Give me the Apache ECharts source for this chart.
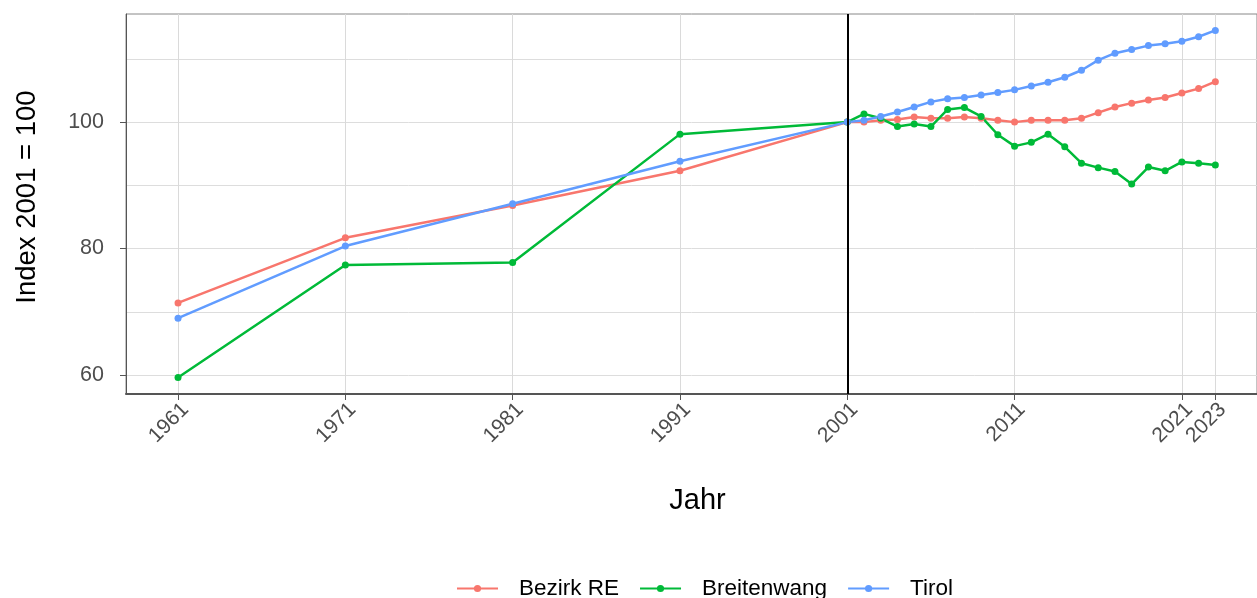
<!DOCTYPE html>
<html>
<head>
<meta charset="utf-8">
<script src="https://cdn.jsdelivr.net/npm/echarts@6/dist/echarts.min.js"></script>
<style>
  html, body { margin: 0; padding: 0; background: #fff; }
  #chart { width: 1257px; height: 598px; }
</style>
</head>
<body>
<div id="chart"></div>
<script>
// years on the x axis
const years = [1961, 1971, 1981, 1991, 2001,
  2002, 2003, 2004, 2005, 2006, 2007, 2008, 2009, 2010, 2011,
  2012, 2013, 2014, 2015, 2016, 2017, 2018, 2019, 2020, 2021, 2022, 2023];

const bezirkRE = [71.4, 81.7, 86.8, 92.3, 100,
  100.0, 100.3, 100.4, 100.8, 100.6, 100.6, 100.8, 100.6, 100.3, 100.0,
  100.3, 100.3, 100.3, 100.6, 101.5, 102.4, 103.0, 103.5, 103.9, 104.6, 105.3, 106.4];

const breitenwang = [59.6, 77.4, 77.8, 98.1, 100,
  101.3, 100.6, 99.3, 99.7, 99.3, 102.0, 102.3, 100.9, 98.0, 96.2,
  96.8, 98.1, 96.1, 93.5, 92.8, 92.2, 90.2, 92.9, 92.3, 93.7, 93.5, 93.2];

const tirol = [69.0, 80.4, 87.1, 93.8, 100,
  100.3, 100.9, 101.6, 102.4, 103.2, 103.7, 103.9, 104.3, 104.7, 105.1,
  105.7, 106.3, 107.1, 108.2, 109.8, 110.9, 111.5, 112.1, 112.4, 112.8, 113.5, 114.5];

const xBreaks = [1961, 1971, 1981, 1991, 2001, 2011, 2021, 2023];
const yLabels = [60, 80, 100];
const yGrid = [60, 70, 80, 90, 100, 110];
const refYear = 2001;

const seriesNames = ['Bezirk RE', 'Breitenwang', 'Tirol'];
const seriesData = [bezirkRE, breitenwang, tirol];
const colors = ['#F8766D', '#00BA38', '#619CFF'];

const chart = echarts.init(document.getElementById('chart'));

const series = seriesNames.map((name, i) => ({
  name: name,
  type: 'line',
  data: years.map((y, j) => [y, seriesData[i][j]]),
  symbol: 'circle',
  symbolSize: 7,
  showSymbol: true,
  lineStyle: { width: 2.5, color: colors[i] },
  itemStyle: { color: colors[i] },
  emphasis: { disabled: true },
  z: 3
}));

// vertical reference line at 2001
series.push({
  type: 'line',
  data: [],
  silent: true,
  markLine: {
    symbol: 'none',
    silent: true,
    label: { show: false },
    lineStyle: { color: '#000', width: 2, type: 'solid' },
    data: [{ xAxis: refYear }]
  },
  z: 2
});

const font = 'Liberation Sans, Arial, sans-serif';
const yMin = 57.0, yMax = 117.1;

const option = {
  animation: false,
  color: colors,
  grid: {
    left: 126, top: 14, right: 0, bottom: 204,
    show: true, borderColor: '#888', borderWidth: 1
  },
  xAxis: {
    type: 'value',
    min: 1957.89,
    max: 2025.49,
    name: 'Jahr',
    nameLocation: 'middle',
    nameGap: 92,
    nameTextStyle: { fontSize: 29, color: '#000', fontFamily: font, padding: [0, 0, 0, 12] },
    axisLine: { show: true, lineStyle: { color: '#555', width: 2 } },
    axisTick: { show: true, customValues: xBreaks, length: 6, lineStyle: { color: '#555' } },
    axisLabel: {
      customValues: xBreaks,
      rotate: 45,
      fontSize: 21,
      color: '#4D4D4D',
      margin: 5,
      verticalAlign: 'top',
      fontFamily: font,
      formatter: v => String(v)
    },
    splitLine: { show: true, lineStyle: { color: '#DADADA', width: 1 } }
  },
  yAxis: [{
    type: 'value',
    min: yMin,
    max: yMax,
    name: 'Index 2001 = 100',
    nameLocation: 'middle',
    nameGap: 85,
    nameRotate: 90,
    nameTextStyle: { fontSize: 27.5, color: '#000', fontFamily: font, padding: [0, 0, 0, 14] },
    axisLine: { show: true, lineStyle: { color: '#555', width: 1 } },
    axisTick: { show: false, customValues: yGrid },
    axisLabel: {
      customValues: yLabels,
      fontSize: 21.5,
      color: '#4D4D4D',
      margin: 22,
      fontFamily: font
    },
    splitLine: { show: true, lineStyle: { color: '#DDDDDD', width: 1 } }
  }, {
    // second axis only to draw the small ticks at the labelled values
    type: 'value',
    position: 'left',
    min: yMin,
    max: yMax,
    axisLine: { show: false },
    axisTick: { show: true, inside: false, length: 6, customValues: yLabels, lineStyle: { color: '#555' } },
    axisLabel: { show: false },
    splitLine: { show: false }
  }],
  legend: {
    data: seriesNames,
    top: 572,
    left: 451,
    itemWidth: 41,
    itemHeight: 9,
    itemGap: 20,
    textStyle: { fontSize: 22.5, color: '#000', fontFamily: font, padding: [0, 0, 0, 16] }
  },
  series: series
};

chart.setOption(option);
</script>
</body>
</html>
